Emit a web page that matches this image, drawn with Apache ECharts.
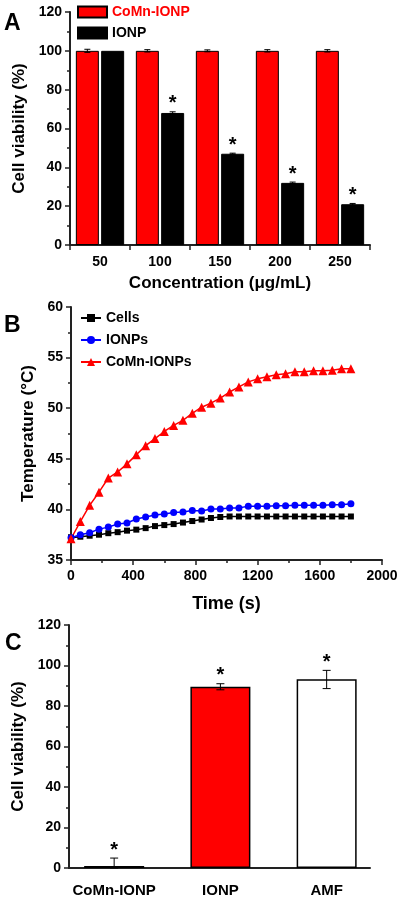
<!DOCTYPE html>
<html>
<head>
<meta charset="utf-8">
<script src="https://cdn.jsdelivr.net/npm/echarts@6/dist/echarts.min.js"></script>
<style>html,body{margin:0;padding:0;background:#fff;}#c{width:401px;height:900px;}</style>
</head>
<body>
<div id="c"></div>
<script>
// ---------- Panel A data ----------
const concA = ['50', '100', '150', '200', '250'];
const comnA = [100, 100, 100, 100, 100];
const comnErrA = [0.8, 0.6, 0.5, 0.6, 0.6];
const ionpA = [100, 68, 47, 32, 21];
const ionpErrA = [0, 0.6, 0.3, 0.4, 0.4];
const ionpSigA = [false, true, true, true, true];
const yTicksA = [0, 20, 40, 60, 80, 100, 120];

// ---------- Panel B data ----------
const timeB = [0,60,120,180,240,300,360,420,480,540,600,660,720,780,840,900,960,1020,1080,1140,1200,1260,1320,1380,1440,1500,1560,1620,1680,1740,1800];
const cellsB = [37.2,37.3,37.4,37.5,37.65,37.75,37.9,38.0,38.15,38.35,38.45,38.55,38.7,38.85,39.0,39.15,39.25,39.3,39.3,39.3,39.3,39.3,39.3,39.3,39.3,39.3,39.3,39.3,39.3,39.3,39.3];
const ionpsB = [37.2,37.5,37.7,38.05,38.25,38.55,38.65,39.05,39.25,39.45,39.55,39.7,39.75,39.9,39.85,40.05,40.05,40.15,40.15,40.3,40.3,40.3,40.35,40.35,40.4,40.4,40.4,40.4,40.45,40.45,40.55];
const comnB = [37.1,38.8,40.4,41.7,43.1,43.7,44.5,45.4,46.3,47.0,47.7,48.3,48.8,49.5,50.1,50.5,51.0,51.6,52.1,52.6,52.9,53.1,53.3,53.4,53.6,53.6,53.7,53.7,53.75,53.9,53.9];

// ---------- Panel C data ----------
const catsC = ['CoMn-IONP', 'IONP', 'AMF'];
const valsC = [1, 89.5, 93.2];
const errLowC = [0, 88.0, 88.6];
const errHighC = [4.9, 91.0, 97.6];
const sigC = [true, true, true];

const FF = '"Liberation Sans", Arial, sans-serif';
const AX = '#222';

function errRender(offset, sig, capW) {
  return function (params, api) {
    const i = api.value(0);
    const lo = api.coord([i, api.value(1)]);
    const hi = api.coord([i, api.value(2)]);
    const x = lo[0] + offset;
    const st = {stroke: '#000', lineWidth: 1};
    const ch = [];
    if (hi[1] !== lo[1]) {
      ch.push({type: 'line', shape: {x1: x, y1: lo[1], x2: x, y2: hi[1]}, style: st});
      ch.push({type: 'line', shape: {x1: x - capW, y1: hi[1], x2: x + capW, y2: hi[1]}, style: st});
      ch.push({type: 'line', shape: {x1: x - capW, y1: lo[1], x2: x + capW, y2: lo[1]}, style: st});
    }
    if (sig && sig[params.dataIndex]) {
      ch.push({type: 'text', x: x, y: hi[1] - 8,
        style: {text: '*', fontSize: 20, fontWeight: 'bold', fontFamily: FF, fill: '#000', align: 'center', verticalAlign: 'middle'}});
    }
    return {type: 'group', children: ch};
  };
}

const valueY = (idx, min, max, interval, gap, name) => ({
  type: 'value', gridIndex: idx, min: min, max: max, interval: interval,
  name: name, nameLocation: 'middle', nameGap: gap,
  nameTextStyle: {fontSize: 17, fontWeight: 'bold', color: '#000', fontFamily: FF},
  axisLine: {show: true, lineStyle: {color: AX, width: 2}},
  axisTick: {show: true, length: 5, lineStyle: {color: AX, width: 1.5}},
  minorTick: {show: true, splitNumber: 2, length: 3, lineStyle: {color: AX, width: 1.5}},
  splitLine: {show: false},
  axisLabel: {fontSize: 14, fontWeight: 'bold', color: '#000', fontFamily: FF, margin: 8}
});

const chart = echarts.init(document.getElementById('c'), null, {renderer: 'canvas'});
chart.setOption({
  animation: false,
  backgroundColor: '#fff',
  textStyle: {fontFamily: FF},
  grid: [
    {left: 70, top: 12, width: 300, height: 233},
    {left: 71, top: 307, width: 311, height: 253},
    {left: 69, top: 625, width: 301, height: 243}
  ],
  legend: [
    {data: [{name: 'CoMn-IONP', textStyle: {color: '#f00'}}, {name: 'IONP', textStyle: {color: '#000'}}],
     orient: 'vertical', left: 77, top: 5, padding: 0, itemGap: 7, itemWidth: 29, itemHeight: 11, icon: 'rect',
     textStyle: {fontSize: 14, fontWeight: 'bold', fontFamily: FF}},
    {data: ['Cells', 'IONPs', 'CoMn-IONPs'],
     orient: 'vertical', left: 80, top: 311, padding: 0, itemGap: 8, itemWidth: 20, itemHeight: 10,
     textStyle: {fontSize: 14, fontWeight: 'bold', color: '#000', fontFamily: FF}}
  ],
  xAxis: [
    {type: 'category', gridIndex: 0, data: concA,
     name: 'Concentration (μg/mL)', nameLocation: 'middle', nameGap: 30,
     nameTextStyle: {fontSize: 17, fontWeight: 'bold', color: '#000', fontFamily: FF},
     axisLine: {lineStyle: {color: AX, width: 2}},
     axisTick: {show: true, length: 5, lineStyle: {color: AX, width: 1.5}},
     axisLabel: {fontSize: 14, fontWeight: 'bold', color: '#000', fontFamily: FF, margin: 10}},
    {type: 'value', gridIndex: 1, min: 0, max: 2000, interval: 400,
     name: 'Time (s)', nameLocation: 'middle', nameGap: 35,
     nameTextStyle: {fontSize: 18, fontWeight: 'bold', color: '#000', fontFamily: FF},
     axisLine: {lineStyle: {color: AX, width: 2}},
     axisTick: {show: true, length: 5, lineStyle: {color: AX, width: 1.5}},
     minorTick: {show: true, splitNumber: 2, length: 3, lineStyle: {color: AX, width: 1.5}},
     splitLine: {show: false},
     axisLabel: {formatter: v => String(v), fontSize: 14, fontWeight: 'bold', color: '#000', fontFamily: FF, margin: 9}},
    {type: 'value', gridIndex: 2, min: 0.575, max: 3.408,
     axisLine: {lineStyle: {color: AX, width: 2}},
     axisTick: {show: false},
     splitLine: {show: false},
     axisLabel: {customValues: [1, 2, 3], formatter: v => catsC[Math.round(v) - 1],
       fontSize: 15, fontWeight: 'bold', color: '#000', fontFamily: FF, margin: 15}}
  ],
  yAxis: [
    valueY(0, 0, 120, 20, 36, 'Cell viability (%)'),
    valueY(1, 35, 60, 5, 29, 'Temperature (°C)'),
    valueY(2, 0, 120, 20, 36, 'Cell viability (%)')
  ],
  series: [
    {name: 'CoMn-IONP', type: 'bar', xAxisIndex: 0, yAxisIndex: 0, data: comnA,
     barWidth: 23, barGap: '10%', itemStyle: {color: '#f00', borderColor: '#000', borderWidth: 1}},
    {name: 'IONP', type: 'bar', xAxisIndex: 0, yAxisIndex: 0, data: ionpA,
     barWidth: 23, itemStyle: {color: '#000', borderColor: '#000', borderWidth: 1}},
    {name: 'errCoMnA', type: 'custom', xAxisIndex: 0, yAxisIndex: 0, z: 10,
     renderItem: errRender(-12.65, null, 3),
     data: comnA.map((v, i) => [i, v - comnErrA[i], v + comnErrA[i]])},
    {name: 'errIonpA', type: 'custom', xAxisIndex: 0, yAxisIndex: 0, z: 10,
     renderItem: errRender(12.65, ionpSigA, 3),
     data: ionpA.map((v, i) => [i, v - ionpErrA[i], v + ionpErrA[i]])},

    {name: 'Cells', type: 'line', xAxisIndex: 1, yAxisIndex: 1,
     data: timeB.map((t, i) => [t, cellsB[i]]),
     symbol: 'rect', symbolSize: 6, color: '#000', lineStyle: {width: 1.5, color: '#000'}, itemStyle: {color: '#000'}},
    {name: 'IONPs', type: 'line', xAxisIndex: 1, yAxisIndex: 1,
     data: timeB.map((t, i) => [t, ionpsB[i]]),
     symbol: 'circle', symbolSize: 7, color: '#00f', lineStyle: {width: 1.5, color: '#00f'}, itemStyle: {color: '#00f'}},
    {name: 'CoMn-IONPs', type: 'line', xAxisIndex: 1, yAxisIndex: 1,
     data: timeB.map((t, i) => [t, comnB[i]]),
     symbol: 'triangle', symbolSize: 9, color: '#f00', lineStyle: {width: 1.5, color: '#f00'}, itemStyle: {color: '#f00'}},

    {name: 'viabilityC', type: 'bar', xAxisIndex: 2, yAxisIndex: 2, barWidth: 60,
     data: valsC.map((v, i) => ({value: [i + 1, v],
       itemStyle: {color: ['#000', '#f00', '#fff'][i], borderColor: '#000', borderWidth: 1.5}}))},
    {name: 'errC', type: 'custom', xAxisIndex: 2, yAxisIndex: 2, z: 10,
     renderItem: errRender(0, sigC, 4),
     data: catsC.map((c, i) => [i + 1, errLowC[i], errHighC[i]])}
  ],
  graphic: [
    {type: 'text', left: 4, top: 12, style: {text: 'A', font: 'bold 23px ' + FF, fill: '#000'}},
    {type: 'text', left: 4, top: 314, style: {text: 'B', font: 'bold 23px ' + FF, fill: '#000'}},
    {type: 'text', left: 5, top: 632, style: {text: 'C', font: 'bold 23px ' + FF, fill: '#000'}}
  ]
});
</script>
</body>
</html>
